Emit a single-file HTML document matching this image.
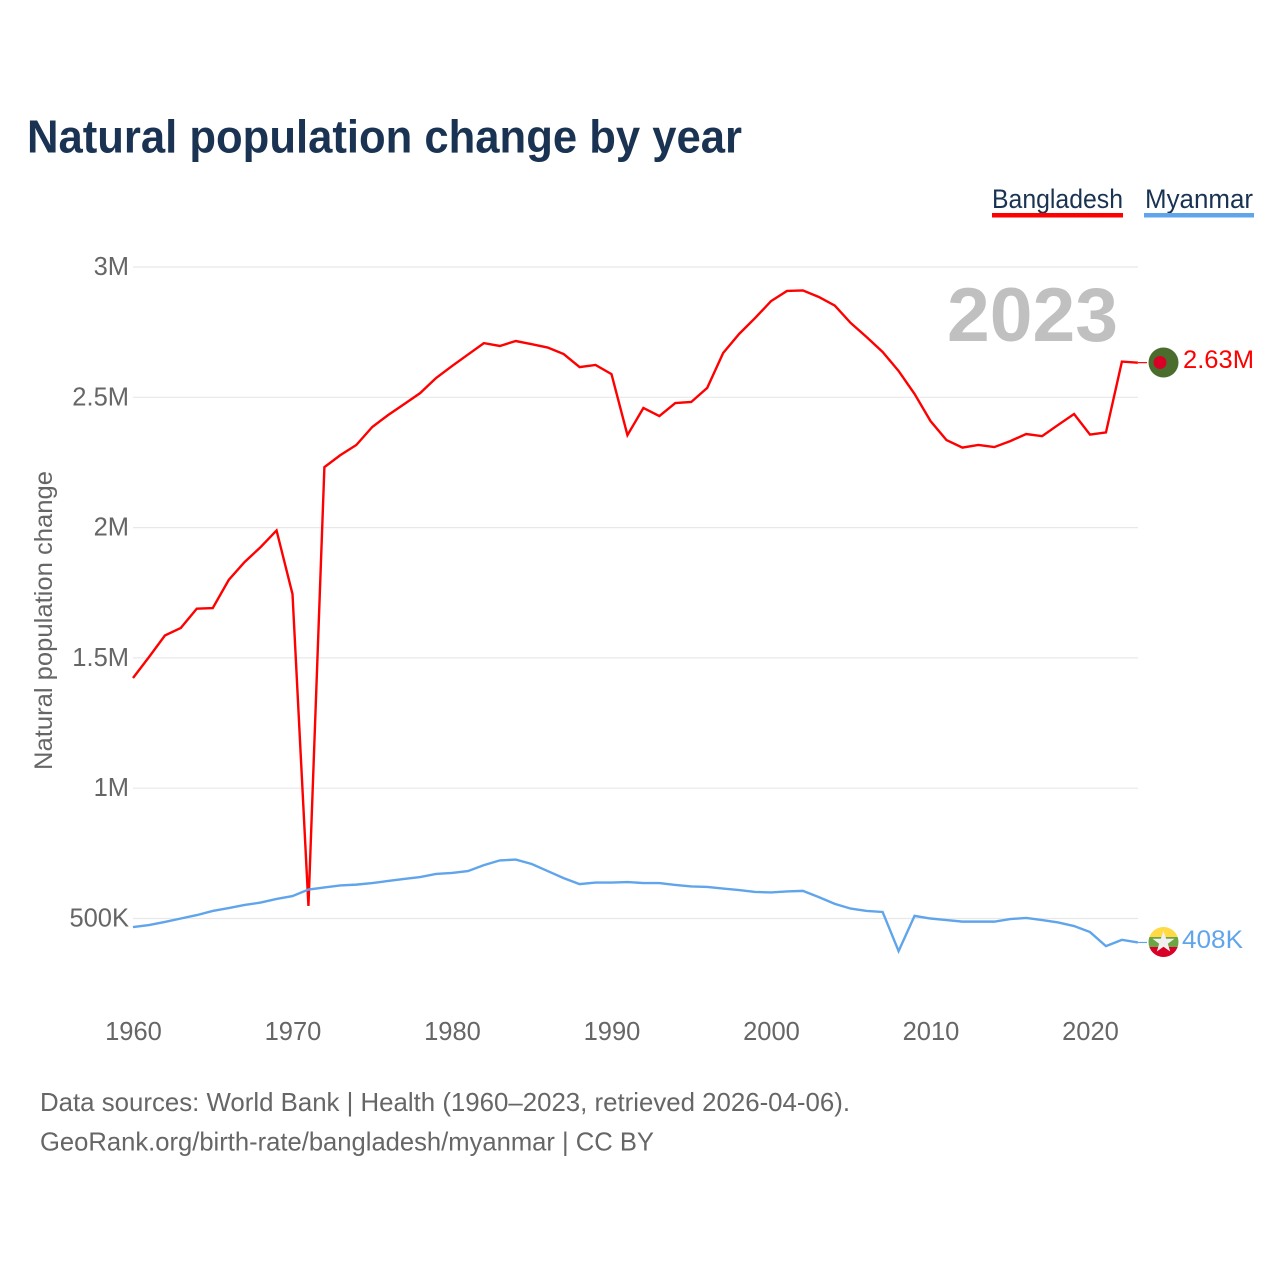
<!DOCTYPE html>
<html lang="en">
<head>
<meta charset="utf-8">
<title>Natural population change by year</title>
<style>
html,body{margin:0;padding:0;background:#fff;}
svg{display:block;font-family:"Liberation Sans",sans-serif;}
</style>
</head>
<body>
<svg id="chart" xmlns="http://www.w3.org/2000/svg" width="1280" height="1280" viewBox="0 0 1280 1280">
  <rect width="1280" height="1280" fill="#fff"/>
  <text x="27" y="152.5" font-size="46" font-weight="700" fill="#1a3353" textLength="715" lengthAdjust="spacingAndGlyphs">Natural population change by year</text>

  <g>
    <text x="992" y="208" font-size="27" fill="#1a3353" textLength="131" lengthAdjust="spacingAndGlyphs">Bangladesh</text>
    <rect x="992" y="213" width="131" height="4.5" fill="#ff0000"/>
  </g>
  <g>
    <text x="1145" y="208" font-size="27" fill="#1a3353" textLength="108" lengthAdjust="spacingAndGlyphs">Myanmar</text>
    <rect x="1144" y="213" width="110" height="4.5" fill="#60a5eb"/>
  </g>

  <g id="grid"></g>
  <g id="yticks"></g>
  <g id="xticks"></g>

  <text transform="translate(52,620.5) rotate(-90)" text-anchor="middle" font-size="25" fill="#666" textLength="299" lengthAdjust="spacingAndGlyphs">Natural population change</text>

  <text x="1118" y="341" text-anchor="end" font-size="76" font-weight="700" fill="#c0c0c0" textLength="171" lengthAdjust="spacingAndGlyphs">2023</text>

  <g id="series"></g>

  <g>
    <circle cx="1163.5" cy="362.5" r="15" fill="#4a6d2e"/>
    <circle cx="1160" cy="362.5" r="6.5" fill="#d80027"/>
  </g>
  <g>
    <clipPath id="myanmarClip"><circle cx="1163.5" cy="942" r="15"/></clipPath>
    <g clip-path="url(#myanmarClip)">
      <rect x="1148" y="926" width="31" height="11" fill="#ffda44"/>
      <rect x="1148" y="937" width="31" height="10" fill="#6da544"/>
      <rect x="1148" y="947" width="31" height="11" fill="#d80027"/>
    </g>
    <polygon points="1163.5,931 1166.2,938.8 1174.5,938.8 1167.8,943.8 1170.2,951.5 1163.5,946.8 1156.8,951.5 1159.2,943.8 1152.5,938.8 1160.8,938.8" fill="#f0f0f0"/>
  </g>

  <text x="1183" y="368" font-size="25" fill="#ff0000" textLength="71" lengthAdjust="spacingAndGlyphs">2.63M</text>
  <text x="1182" y="948" font-size="25" fill="#60a5eb" textLength="61" lengthAdjust="spacingAndGlyphs">408K</text>

  <text x="40" y="1111" font-size="26" fill="#666" textLength="810" lengthAdjust="spacingAndGlyphs">Data sources: World Bank | Health (1960–2023, retrieved 2026-04-06).</text>
  <text x="40" y="1150.5" font-size="26" fill="#666" textLength="614" lengthAdjust="spacingAndGlyphs">GeoRank.org/birth-rate/bangladesh/myanmar | CC BY</text>
</svg>
<script>
const startYear = 1960;
const yTickValues = [500000, 1000000, 1500000, 2000000, 2500000, 3000000];
const yTickLabels = ["500K", "1M", "1.5M", "2M", "2.5M", "3M"];
const xTickYears = [1960, 1970, 1980, 1990, 2000, 2010, 2020];
const bangladeshValues = [1.423,1.503,1.586,1.615,1.689,1.691,1.799,1.868,1.925,1.989,1.745,0.548,2.232,2.278,2.317,2.386,2.432,2.474,2.516,2.574,2.620,2.664,2.708,2.697,2.716,2.704,2.691,2.666,2.616,2.624,2.589,2.355,2.459,2.428,2.478,2.482,2.536,2.670,2.743,2.804,2.869,2.908,2.910,2.885,2.852,2.785,2.731,2.674,2.601,2.513,2.409,2.336,2.307,2.317,2.309,2.332,2.359,2.351,2.394,2.436,2.357,2.365,2.637,2.633];
const myanmarValues = [467,475,487,500,513,529,540,552,561,575,586,611,619,627,630,636,644,652,659,671,675,682,705,723,726,709,682,655,632,638,638,640,636,636,629,623,621,615,609,602,600,604,606,582,556,538,529,525,375,510,500,494,488,488,488,498,502,494,485,471,448,394,418,408];

const NS = "http://www.w3.org/2000/svg";
function xScale(year) { return 133 + (year - 1960) * 15.95; }
function yScale(value) { return 918.5 - (value - 500000) * (651.5 / 2500000); }
function make(tag, attrs, parent) {
  const el = document.createElementNS(NS, tag);
  for (const k in attrs) el.setAttribute(k, attrs[k]);
  parent.appendChild(el);
  return el;
}
const gridG = document.getElementById("grid");
const yG = document.getElementById("yticks");
const xG = document.getElementById("xticks");
const seriesG = document.getElementById("series");

yTickValues.forEach(function (v, i) {
  const line = make("line", {x1: 133, x2: 1138, y1: yScale(v), y2: yScale(v), stroke: "#e8e8e8", "stroke-width": 1.2}, gridG);
  
  
  const t = make("text", {x: 129, y: yScale(v) + 8, "text-anchor": "end", "font-size": 25.5, fill: "#666"}, yG);
  
  
  t.textContent = yTickLabels[i];
});
xTickYears.forEach(function (y) {
  const t = make("text", {x: xScale(y) + 0.5, y: 1040, "text-anchor": "middle", "font-size": 25.5, fill: "#666"}, xG);
  
  
  t.textContent = y;
});
function drawSeries(values, factor, color, name) {
  const pts = values.map(function (v, i) {
    return xScale(startYear + i).toFixed(2) + "," + yScale(v * factor).toFixed(2);
  }).join(" ");
  const p = make("polyline", {points: pts, fill: "none", stroke: color, "stroke-width": 2.4, "stroke-linejoin": "miter"}, seriesG);
  
  
  const last = values[values.length - 1] * factor;
  const endX = xScale(startYear + values.length - 1);
  const c = make("line", {x1: endX, x2: 1147, y1: yScale(last), y2: yScale(last), stroke: color, "stroke-width": 1.2}, seriesG);
  
  
}
drawSeries(bangladeshValues, 1000000, "#ff0000", "line-bangladesh");
drawSeries(myanmarValues, 1000, "#60a5eb", "line-myanmar");
</script>
</body>
</html>
